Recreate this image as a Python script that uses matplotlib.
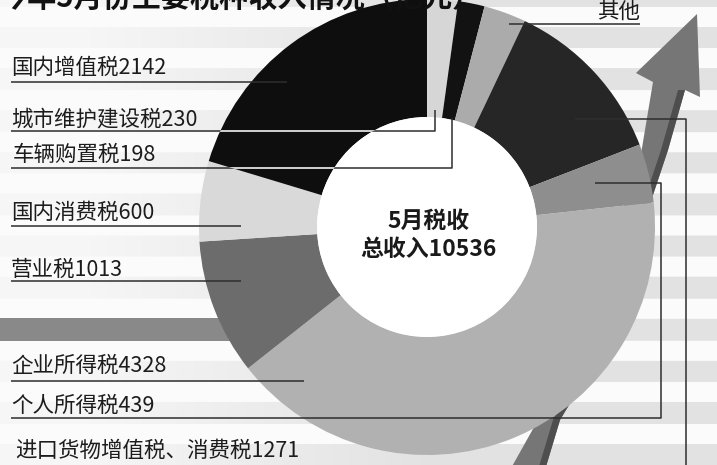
import numpy as np
import matplotlib
matplotlib.use("Agg")
import matplotlib.pyplot as plt
from matplotlib.patches import Polygon, Rectangle, Circle

plt.rcParams['font.family'] = ['Noto Sans CJK SC', 'DejaVu Sans']

W, H = 717, 465

# data (亿元), clockwise from 12 o'clock
names = ['城市维护建设税', '车辆购置税', '其他', '进口货物增值税、消费税',
         '个人所得税', '企业所得税', '营业税', '国内消费税', '国内增值税']
values = [230, 198, 315, 1271, 439, 4328, 1013, 600, 2142]
colors = ['#d6d6d6', '#121212', '#ababab', '#262626', '#8e8e8e',
          '#b1b1b1', '#6c6c6c', '#d9d9d9', '#0e0e0e']
total = 10536


def Y(y):
    return H - y


fig = plt.figure(figsize=(W / 100, H / 100), dpi=100)
ax = fig.add_axes([0, 0, 1, 1])

# striped background, fading to the left
yy, xx = np.mgrid[0:H, 0:W]
stripe = ((yy - 277) % 41.6) < 21.5
fade = np.clip(xx / 420, 0.2, 1.0)
bg = np.where(stripe, 0.985 - 0.095 * fade, 0.985)
ax.imshow(np.dstack([bg, bg, bg]), extent=(0, W, 0, H), origin='upper', zorder=0)

# dark band on the left
ax.add_patch(Rectangle((0, Y(341)), 250, 23, color='#898989', lw=0, zorder=1))

# rising arrow behind the ring
shaft_l = [(510, 470), (538, 420), (575, 330), (612, 240), (640, 160), (653, 82)]
head = [(636, 73), (697, 14), (700, 97), (685, 90)]
shaft_r = [(668, 150), (648, 210), (615, 300), (578, 390), (560, 420), (545, 470)]
pts = shaft_l + head + shaft_r
ax.add_patch(Polygon([(x, Y(y)) for x, y in pts], closed=True, color='#767676', lw=0, zorder=2))
side = [(685, 90)] + shaft_r
side_pts = side + [(x - 7, y) for x, y in side[::-1]]
ax.add_patch(Polygon([(x, Y(y)) for x, y in side_pts], closed=True, color='#4e4e4e', lw=0, zorder=2))

# donut
cx, cy, R, r = 427, 227, 228, 110
wedges, _ = ax.pie(values, colors=colors, startangle=90, counterclock=False,
                   center=(cx, Y(cy)), radius=R,
                   wedgeprops=dict(width=R - r, linewidth=0))
for w in wedges:
    w.set_zorder(3)
ax.add_patch(Circle((cx, Y(cy)), r, color='white', lw=0, zorder=3))

ax.text(cx + 2, Y(221), '5月税收', ha='center', va='center', fontsize=16.5,
        fontweight='bold', color='#1a1a1a', zorder=6)
ax.text(cx + 1, Y(249), '总收入' + str(total), ha='center', va='center', fontsize=16.5,
        fontweight='bold', color='#1a1a1a', zorder=6)

# labels and leader lines
lc = '#2e2e2e'
tc = '#1c1c1c'
fs = 15.5


def label(i, x, y):
    ax.text(x, Y(y), names[i] + str(values[i]), ha='left', va='center',
            fontsize=fs, fontweight='light', color=tc, zorder=6)


def leader(xs, ys, white_on=None):
    ax.plot(xs, [Y(v) for v in ys], color=lc, lw=1.1, zorder=4, solid_capstyle='butt')
    if white_on is not None:
        ln, = ax.plot(xs, [Y(v) for v in ys], color='white', lw=1.1, zorder=4.5)
        ln.set_clip_path(white_on)


label(8, 11, 68)
leader([11, 287], [82, 82])
label(0, 11, 119)
leader([11, 435, 435], [131, 131, 110], white_on=wedges[8])
label(1, 13, 155)
leader([11, 452, 452], [168, 168, 118], white_on=wedges[8])
label(7, 11, 213)
leader([11, 241], [226, 226])
label(6, 11, 270)
leader([11, 241], [281, 281])
label(5, 11, 366)
leader([11, 304], [381, 381])
label(4, 11, 406)
leader([11, 661, 661, 595], [418, 418, 183, 183])
label(3, 15, 451)
leader([575, 686, 686], [119, 119, 470])
ax.text(597, Y(12), names[2], ha='left', va='center', fontsize=fs,
        fontweight='light', color=tc, zorder=6)
leader([509, 640], [24, 24])

# title, mostly cut off at the top edge
ax.text(-2, Y(7), '今年5月份主要税种收入情况（亿元）', ha='left', va='baseline',
        fontsize=21, fontweight='bold', color='#111111', zorder=6)

ax.set_xlim(0, W)
ax.set_ylim(0, H)
ax.set_aspect('auto')
ax.axis('off')
fig.savefig('out.png', dpi=100)
